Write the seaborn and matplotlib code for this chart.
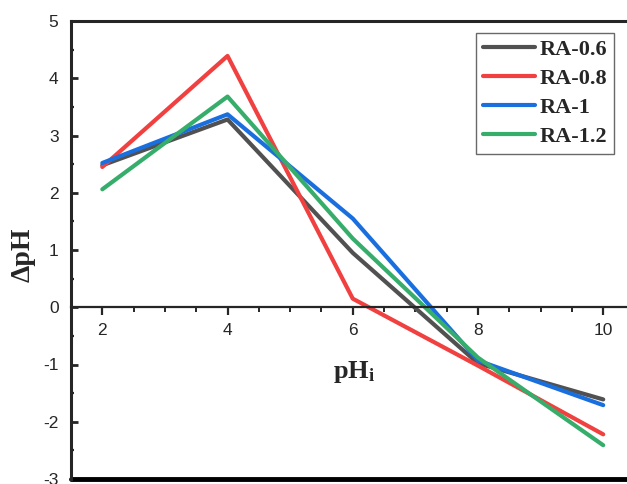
#!/usr/bin/env python
# delta pH vs initial pH for RA samples

import matplotlib.pyplot as plt
import matplotlib.ticker as mticker
import pandas as pd
import seaborn as sns

ph_initial = [2, 4, 6, 8, 10]
ra_06 = [2.48, 3.28, 0.95, -0.98, -1.61]
ra_08 = [2.45, 4.39, 0.15, -1.02, -2.22]
ra_1 = [2.52, 3.37, 1.55, -0.93, -1.71]
ra_12 = [2.06, 3.68, 1.20, -0.88, -2.41]
series_names = ["RA-0.6", "RA-0.8", "RA-1", "RA-1.2"]
colors = ["#515151", "#F14040", "#1A6FDF", "#37AD6B"]


def main():
    sns.set_style("white")
    plt.rcParams["font.family"] = ["Liberation Sans", "DejaVu Sans"]
    plt.rcParams["axes.unicode_minus"] = False
    plt.rcParams["mathtext.fontset"] = "custom"
    plt.rcParams["mathtext.rm"] = "Liberation Serif"
    plt.rcParams["mathtext.bf"] = "Liberation Serif:bold"

    frames = []
    for name, vals in zip(series_names, [ra_06, ra_08, ra_1, ra_12]):
        frames.append(pd.DataFrame({"pHi": ph_initial, "dpH": vals, "sample": name}))
    df = pd.concat(frames, ignore_index=True)

    fig = plt.figure(figsize=(6.27, 4.84), dpi=100)
    ax = fig.add_axes([71 / 627, 5 / 484, 1 - 71 / 627, 458 / 484])
    sns.lineplot(
        data=df, x="pHi", y="dpH", hue="sample", palette=colors,
        linewidth=3, ax=ax, legend=True,
    )

    ax.set_xlim(1.5, 10.38)
    ax.set_ylim(-3, 5)

    # origin style: x axis through zero, box frame around
    ax.spines["bottom"].set_position(("data", 0))
    ax.spines["right"].set_visible(False)
    for s in ["left", "top"]:
        ax.spines[s].set_linewidth(2.2)
    ax.spines["bottom"].set_linewidth(1.6)
    ax.axhline(-3, color="black", lw=3.5, clip_on=False)

    ax.xaxis.set_major_locator(mticker.MultipleLocator(2))
    ax.xaxis.set_minor_locator(mticker.MultipleLocator(0.5))
    ax.yaxis.set_major_locator(mticker.MultipleLocator(1))
    ax.yaxis.set_minor_locator(mticker.MultipleLocator(0.5))
    ax.tick_params(axis="x", which="major", direction="out", length=6, width=1.6,
                   labelsize=12.5, pad=5, bottom=True)
    ax.tick_params(axis="x", which="minor", direction="out", length=3.5, width=1.4,
                   bottom=True)
    ax.tick_params(axis="y", which="major", direction="in", length=5, width=2,
                   labelsize=12.5, pad=9, left=True)
    ax.tick_params(axis="y", which="minor", direction="in", length=2.5, width=1.6,
                   left=True)

    ax.set_xlabel(r"$\mathbf{pH_i}$", fontsize=19)
    ax.set_ylabel("ΔpH", fontsize=20, fontweight="bold", family="Liberation Serif")
    ax.xaxis.set_label_coords(0.509, 0.262)
    ax.yaxis.set_label_coords(-0.063, 0.49)

    leg = ax.legend(
        loc="upper right", bbox_to_anchor=(0.9766, 0.974), borderaxespad=0,
        frameon=True, fancybox=False, edgecolor="#444444", handlelength=2.35,
        borderpad=0.3, labelspacing=0.38, handletextpad=0.2,
        prop={"family": "Liberation Serif", "weight": "bold", "size": 16},
    )
    leg.get_frame().set_linewidth(1.0)
    for line in leg.get_lines():
        line.set_linewidth(3)

    plt.savefig("out.png", dpi=100)
    plt.close()


if __name__ == "__main__":
    main()
